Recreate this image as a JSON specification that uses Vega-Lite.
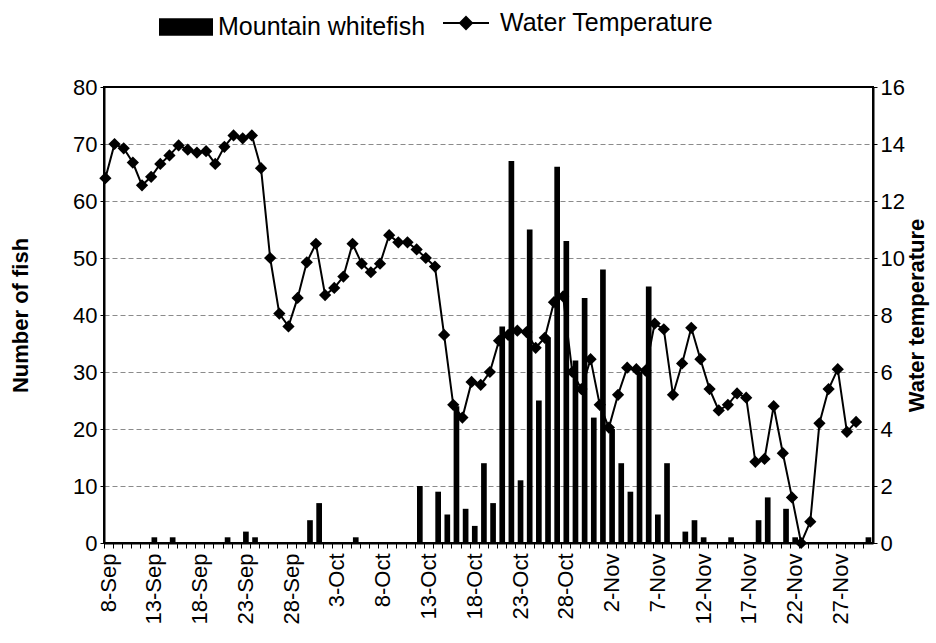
{
  "$schema": "https://vega.github.io/schema/vega-lite/v6.json",
  "width": 769,
  "height": 456,
  "autosize": {"type": "none"},
  "padding": {"left": 104, "top": 87, "right": 63, "bottom": 100},
  "background": "white",
  "config": {
    "font": "Liberation Sans",
    "view": {"stroke": "black", "strokeWidth": 2},
    "axis": {"labelColor": "black", "titleColor": "black", "domainColor": "black", "tickColor": "black", "labelFont": "Liberation Sans", "titleFont": "Liberation Sans"},
    "legend": {"labelFont": "Liberation Sans", "labelColor": "black", "labelLimit": 0}
  },
  "data": {"values": [
    {"date": "2004-09-08", "fish": 0, "temp": 12.8},
    {"date": "2004-09-09", "fish": 0, "temp": 14.0},
    {"date": "2004-09-10", "fish": 0, "temp": 13.85},
    {"date": "2004-09-11", "fish": 0, "temp": 13.35},
    {"date": "2004-09-12", "fish": 0, "temp": 12.55},
    {"date": "2004-09-13", "fish": 1, "temp": 12.85},
    {"date": "2004-09-14", "fish": 0, "temp": 13.3},
    {"date": "2004-09-15", "fish": 1, "temp": 13.6},
    {"date": "2004-09-16", "fish": 0, "temp": 13.95},
    {"date": "2004-09-17", "fish": 0, "temp": 13.8},
    {"date": "2004-09-18", "fish": 0, "temp": 13.7},
    {"date": "2004-09-19", "fish": 0, "temp": 13.75},
    {"date": "2004-09-20", "fish": 0, "temp": 13.3},
    {"date": "2004-09-21", "fish": 1, "temp": 13.9},
    {"date": "2004-09-22", "fish": 0, "temp": 14.3},
    {"date": "2004-09-23", "fish": 2, "temp": 14.2},
    {"date": "2004-09-24", "fish": 1, "temp": 14.3},
    {"date": "2004-09-25", "fish": 0, "temp": 13.15},
    {"date": "2004-09-26", "fish": 0, "temp": 10.0},
    {"date": "2004-09-27", "fish": 0, "temp": 8.05},
    {"date": "2004-09-28", "fish": 0, "temp": 7.6},
    {"date": "2004-09-29", "fish": 0, "temp": 8.6},
    {"date": "2004-09-30", "fish": 4, "temp": 9.85},
    {"date": "2004-10-01", "fish": 7, "temp": 10.5},
    {"date": "2004-10-02", "fish": 0, "temp": 8.7},
    {"date": "2004-10-03", "fish": 0, "temp": 8.95},
    {"date": "2004-10-04", "fish": 0, "temp": 9.35},
    {"date": "2004-10-05", "fish": 1, "temp": 10.5},
    {"date": "2004-10-06", "fish": 0, "temp": 9.8},
    {"date": "2004-10-07", "fish": 0, "temp": 9.5},
    {"date": "2004-10-08", "fish": 0, "temp": 9.8},
    {"date": "2004-10-09", "fish": 0, "temp": 10.8},
    {"date": "2004-10-10", "fish": 0, "temp": 10.55},
    {"date": "2004-10-11", "fish": 0, "temp": 10.55},
    {"date": "2004-10-12", "fish": 10, "temp": 10.3},
    {"date": "2004-10-13", "fish": 0, "temp": 10.0},
    {"date": "2004-10-14", "fish": 9, "temp": 9.7},
    {"date": "2004-10-15", "fish": 5, "temp": 7.3},
    {"date": "2004-10-16", "fish": 24, "temp": 4.85},
    {"date": "2004-10-17", "fish": 6, "temp": 4.4},
    {"date": "2004-10-18", "fish": 3, "temp": 5.65},
    {"date": "2004-10-19", "fish": 14, "temp": 5.55},
    {"date": "2004-10-20", "fish": 7, "temp": 6.0},
    {"date": "2004-10-21", "fish": 38, "temp": 7.1},
    {"date": "2004-10-22", "fish": 67, "temp": 7.3},
    {"date": "2004-10-23", "fish": 11, "temp": 7.45},
    {"date": "2004-10-24", "fish": 55, "temp": 7.4},
    {"date": "2004-10-25", "fish": 25, "temp": 6.85},
    {"date": "2004-10-26", "fish": 36, "temp": 7.2},
    {"date": "2004-10-27", "fish": 66, "temp": 8.45},
    {"date": "2004-10-28", "fish": 53, "temp": 8.65},
    {"date": "2004-10-29", "fish": 32, "temp": 6.0},
    {"date": "2004-10-30", "fish": 43, "temp": 5.4},
    {"date": "2004-10-31", "fish": 22, "temp": 6.45},
    {"date": "2004-11-01", "fish": 48, "temp": 4.85},
    {"date": "2004-11-02", "fish": 20, "temp": 4.05},
    {"date": "2004-11-03", "fish": 14, "temp": 5.2},
    {"date": "2004-11-04", "fish": 9, "temp": 6.15},
    {"date": "2004-11-05", "fish": 30, "temp": 6.1},
    {"date": "2004-11-06", "fish": 45, "temp": 6.05},
    {"date": "2004-11-07", "fish": 5, "temp": 7.7},
    {"date": "2004-11-08", "fish": 14, "temp": 7.5},
    {"date": "2004-11-09", "fish": 0, "temp": 5.2},
    {"date": "2004-11-10", "fish": 2, "temp": 6.3},
    {"date": "2004-11-11", "fish": 4, "temp": 7.55},
    {"date": "2004-11-12", "fish": 1, "temp": 6.45},
    {"date": "2004-11-13", "fish": 0, "temp": 5.4},
    {"date": "2004-11-14", "fish": 0, "temp": 4.65},
    {"date": "2004-11-15", "fish": 1, "temp": 4.85},
    {"date": "2004-11-16", "fish": 0, "temp": 5.25},
    {"date": "2004-11-17", "fish": 0, "temp": 5.1},
    {"date": "2004-11-18", "fish": 4, "temp": 2.85},
    {"date": "2004-11-19", "fish": 8, "temp": 2.95},
    {"date": "2004-11-20", "fish": 0, "temp": 4.8},
    {"date": "2004-11-21", "fish": 6, "temp": 3.15},
    {"date": "2004-11-22", "fish": 1, "temp": 1.6},
    {"date": "2004-11-23", "fish": 0, "temp": 0.0},
    {"date": "2004-11-24", "fish": 0, "temp": 0.75},
    {"date": "2004-11-25", "fish": 0, "temp": 4.2},
    {"date": "2004-11-26", "fish": 0, "temp": 5.4},
    {"date": "2004-11-27", "fish": 0, "temp": 6.1},
    {"date": "2004-11-28", "fish": 0, "temp": 3.9},
    {"date": "2004-11-29", "fish": 0, "temp": 4.25},
    {"date": "2004-11-30", "fish": 1}
  ]},
  "layer": [
    {
      "mark": {"type": "bar", "color": "black", "width": {"band": 0.62}},
      "encoding": {
        "x": {
          "field": "date", "type": "ordinal",
          "scale": {"paddingInner": 0, "paddingOuter": 0},
          "axis": {
            "title": null, "bandPosition": 0, "labelAngle": -90,
            "labelExpr": "round((toDate(datum.value) - toDate('2004-09-08')) / 86400000) % 5 == 0 ? utcFormat(toDate(datum.value), '%-d-%b') : ''",
            "labelFontSize": 22, "labelPadding": 5, "labelOverlap": false,
            "tickSize": 5, "tickWidth": 1, "domainWidth": 2
          }
        },
        "y": {
          "field": "fish", "type": "quantitative",
          "scale": {"domain": [0, 80]},
          "axis": {
            "title": "Number of fish", "titleFontSize": 22, "titleFontWeight": "bold", "titlePadding": 40,
            "values": [0, 10, 20, 30, 40, 50, 60, 70, 80],
            "labelFontSize": 22, "labelPadding": 3, "tickSize": 4, "domainWidth": 2,
            "grid": true, "gridColor": "black", "gridDash": [5, 3], "gridWidth": 0.7, "gridOpacity": 0.65
          }
        },
        "color": {
          "datum": "Mountain whitefish",
          "scale": {"range": ["black"]},
          "legend": {
            "title": null, "orient": "none", "legendX": 55, "legendY": -87, "padding": 0,
            "symbolType": "M-1,-0.32H1V0.32H-1Z", "symbolSize": 2916, "symbolStrokeWidth": 0,
            "symbolFillColor": "black",
            "labelFontSize": 25, "labelOffset": 5, "labelLimit": 0
          }
        }
      }
    },
    {
      "layer": [
        {
          "mark": {"type": "line", "color": "black", "strokeWidth": 2},
          "encoding": {
            "x": {"field": "date", "type": "ordinal", "bandPosition": 0.15},
            "y": {
              "field": "temp", "type": "quantitative",
              "scale": {"domain": [0, 16]},
              "axis": {
                "orient": "right", "title": "Water temperature", "titleFontSize": 22, "titleFontWeight": "bold",
                "titleAngle": -90, "titleBaseline": "top", "titlePadding": 2,
                "values": [0, 2, 4, 6, 8, 10, 12, 14, 16],
                "labelFontSize": 22, "labelPadding": 3, "tickSize": 4, "domainWidth": 2, "grid": false
              }
            },
            "stroke": {
              "datum": "Water Temperature",
              "scale": {"range": ["black"]},
              "legend": {
                "title": null, "orient": "none", "legendX": 338, "legendY": -88, "padding": 0,
                "symbolType": "M-1,0H1M0,-0.26L0.26,0L0,0.26L-0.26,0ZM0,-0.17L0.17,0L0,0.17L-0.17,0ZM0,-0.08L0.08,0L0,0.08L-0.08,0Z",
                "symbolSize": 2116, "symbolFillColor": "black", "symbolStrokeColor": "black", "symbolStrokeWidth": 2,
                "labelFontSize": 25, "labelOffset": 10, "labelLimit": 0
              }
            }
          }
        },
        {
          "mark": {"type": "point", "shape": "diamond", "filled": true, "opacity": 1, "size": 150, "color": "black"},
          "encoding": {
            "x": {"field": "date", "type": "ordinal", "bandPosition": 0.15},
            "y": {"field": "temp", "type": "quantitative"}
          }
        }
      ]
    }
  ],
  "resolve": {"scale": {"y": "independent"}}
}
